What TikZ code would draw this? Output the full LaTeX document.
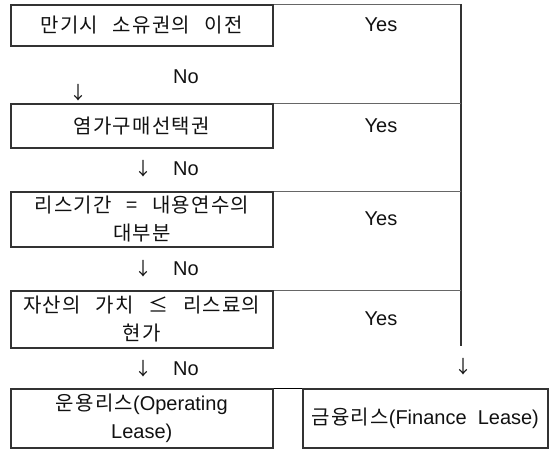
\documentclass[tikz,border=0pt]{standalone}
\usepackage{fontspec}
\setmainfont{Liberation Sans}
\newfontfamily\kr[WordSpace=2.6,LetterSpace=6]{Noto Sans CJK KR}
\definecolor{boxc}{HTML}{333333}
\definecolor{linec}{HTML}{666666}
\definecolor{txtc}{HTML}{111111}
\begin{document}
\begin{tikzpicture}[x=1pt,y=-1pt,
  box/.style={draw=boxc, line width=1.6pt, anchor=north west, inner sep=0pt,
    align=center, text=txtc, font=\fontsize{20}{28}\selectfont},
  lbl/.style={inner sep=0pt, text=txtc, font=\fontsize{20}{24}\selectfont},
  arr/.style={inner sep=0pt, text=txtc, font=\kr\fontsize{18}{20}\selectfont},
  conn/.style={draw=linec, line width=0.8pt},
  vline/.style={draw=boxc, line width=1.4pt}]
\useasboundingbox (0,0) rectangle (550,449);

\node[box, minimum width=262pt, minimum height=41pt] (b1) at (10,4)
  {\kr 만기시 소유권의 이전};
\node[box, minimum width=262pt, minimum height=44pt] (b2) at (10,103)
  {\kr 염가구매선택권};
\node[box, minimum width=262pt, minimum height=55pt] (b3) at (10,191)
  {\kr 리스기간 = 내용연수의\\\kr 대부분};
\node[box, minimum width=262pt, minimum height=57pt] (b4) at (10,290)
  {\kr 자산의 가치 ≤ 리스료의\\\kr 현가};
\node[box, minimum width=262pt, minimum height=59pt] (b5) at (10,388)
  {{\kr 운용리스}(Operating\\Lease)};
\node[box, minimum width=245pt, minimum height=59pt] (b6) at (302,388)
  {{\kr 금융리스}(Finance~ Lease)};

% Yes labels
\node[lbl] (y1) at (381,25) {Yes};
\node[lbl] (y2) at (381,126) {Yes};
\node[lbl] (y3) at (381,219) {Yes};
\node[lbl] (y4) at (381,319) {Yes};

% No labels and arrows
\node[lbl] (n1) at (186,77) {No};
\node[arr] (a1) at (78,93) {↓};
\node[lbl] (n2) at (186,169) {No};
\node[arr] (a2) at (143,169) {↓};
\node[lbl] (n3) at (186,269) {No};
\node[arr] (a3) at (143,269) {↓};
\node[lbl] (n4) at (186,369) {No};
\node[arr] (a4) at (143,369) {↓};
\node[arr] (a5) at (463,367) {↓};

% connectors
\coordinate (tr) at (461,4);
\coordinate (vb) at (461,346);
\draw[conn] (b1.north east) -- (tr);
\draw[vline] (tr) -- (vb);
\draw[conn] (b2.north east) -- (b2.north east -| tr);
\draw[conn] (b3.north east) -- (b3.north east -| tr);
\draw[conn] (b4.north east) -- (b4.north east -| tr);
\draw[draw=black, line width=0.8pt] (b5.north east) -- (b6.north west);
\end{tikzpicture}
\end{document}
